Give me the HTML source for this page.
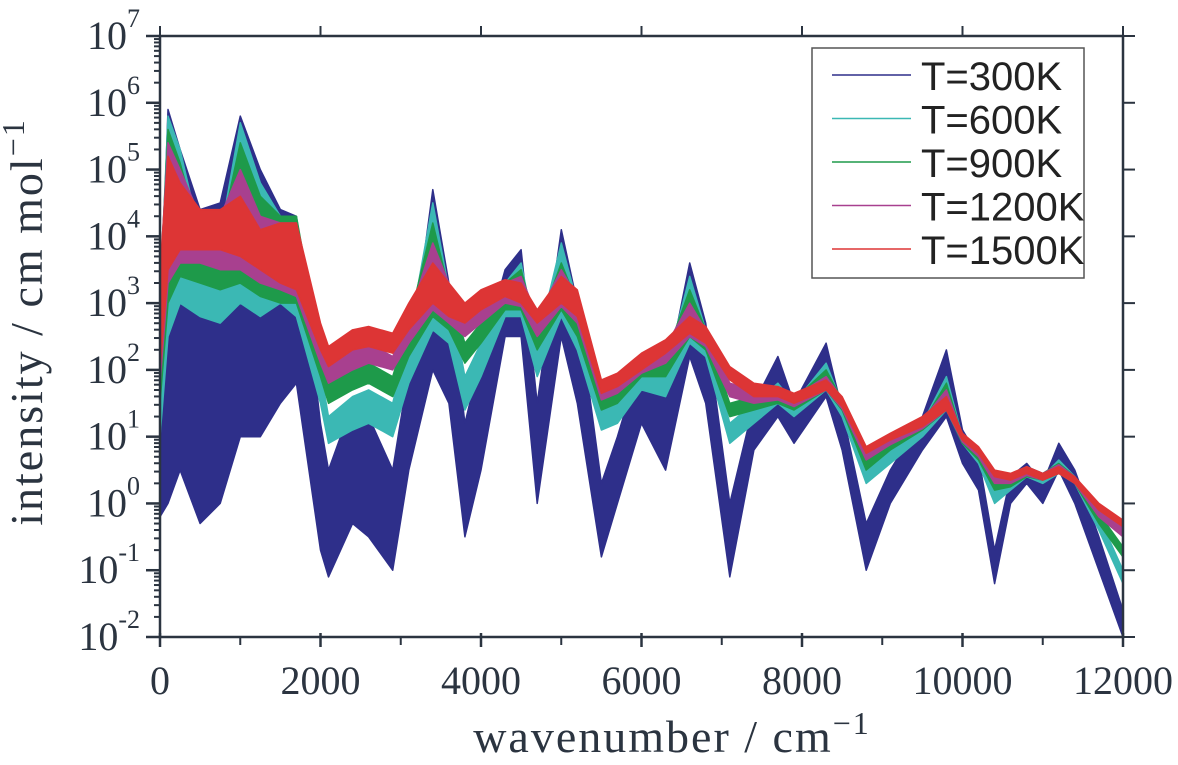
<!DOCTYPE html>
<html><head><meta charset="utf-8"><style>
html,body{margin:0;padding:0;background:#fff;}
svg{display:block;}
text{font-family:"Liberation Serif",serif;fill:#2b3440;}
</style></head><body>
<svg id="chart" width="1178" height="765" viewBox="0 0 1178 765">
<g id="series"></g>
<g id="axes"></g>
<g id="legend">
<rect x="812" y="48" width="272" height="230" fill="#fff" stroke="#555" stroke-width="1.5"/>
</g>
<text x="28" y="322" font-size="46" letter-spacing="2" transform="rotate(-90 28 322)" text-anchor="middle" dy="14">intensity / cm mol<tspan dy="-18" font-size="32">−1</tspan></text>
<text x="672" y="752" font-size="46" letter-spacing="2" text-anchor="middle">wavenumber / cm<tspan dy="-18" font-size="32">−1</tspan></text>
</svg>
<script>
const xs=[0,100,250,500,750,1000,1250,1500,1700,2000,2100,2400,2600,2900,3100,3400,3600,3800,4000,4300,4500,4700,5000,5200,5500,5700,6000,6300,6600,6800,7100,7400,7700,7900,8300,8500,8800,9100,9500,9800,10000,10200,10400,10600,10800,11000,11200,11400,11700,12000];
const names=["T=300K","T=600K","T=900K","T=1200K","T=1500K"];
const colors=["#2e2f8a","#3bb8b4","#1e9a4a","#a8408f","#dd3535"];
const lo300=[-0.2,0,0.5,-0.3,0,1,1,1.5,1.8,-0.7,-1.1,-0.3,-0.5,-1.0,0.5,2,1.5,-0.5,0.5,2.5,2.5,0,2.5,1.5,-0.8,0,1.2,0.5,2.2,1.5,-1.1,0.8,1.3,0.9,1.6,0.8,-1.0,0,0.8,1.3,0.6,0.2,-1.2,0,0.3,0,0.5,0,-1,-2];
const hi300=[2.5,5.9,5.3,4.4,4.5,5.8,5,4.4,4.3,1.2,0.5,1.5,1.3,0.5,2,4.7,3.3,1.2,2.2,3.5,3.8,1.5,4.1,3.0,0.3,1,2.2,1.8,3.6,2.7,0,1.5,2.2,1.5,2.4,1.4,-0.3,0.5,1.3,2.3,1.1,0.7,-0.7,0.4,0.6,0.3,0.9,0.5,-0.5,-1.6];
const lo600=[1,2.5,3,2.8,2.7,3,2.8,3,2.8,1.5,0.9,1.1,1.2,1,1.8,2.6,2.4,1.4,1.9,2.8,2.8,1.9,2.8,2.3,1.1,1.2,1.7,1.6,2.4,2.2,0.9,1.2,1.5,1.3,1.7,1.3,0.3,0.6,1.0,1.4,0.9,0.6,0,0.2,0.4,0.3,0.45,0.3,-0.4,-1.2];
const hi600=[3,5.8,5.3,4,4,5.7,4.8,4.3,4.3,2,1.3,1.6,1.7,1.5,2.5,4.5,3.2,1.9,2.4,3.3,3.6,2.4,3.9,3,1.4,1.5,2,2,3.4,2.6,1.2,1.5,1.8,1.5,2.1,1.5,0.5,0.8,1.2,1.9,1.0,0.75,0.2,0.35,0.55,0.4,0.65,0.4,-0.2,-1.0];
const lo900=[1.5,3,3.4,3.3,3.2,3.3,3.1,3,3,1.9,1.5,1.7,1.8,1.6,2.2,2.8,2.6,2.1,2.4,2.9,2.9,2.3,2.9,2.5,1.4,1.5,1.9,1.9,2.5,2.3,1.3,1.4,1.5,1.4,1.7,1.4,0.5,0.8,1.1,1.4,0.9,0.65,0.2,0.25,0.4,0.35,0.45,0.3,-0.3,-0.8];
const hi900=[3.2,5.6,5.1,4,4,5.4,4.6,4.3,4.3,2.3,1.8,2,2.1,1.9,2.7,4.2,3.2,2.4,2.7,3.3,3.5,2.6,3.6,3,1.6,1.7,2.1,2.2,3.2,2.6,1.5,1.6,1.7,1.55,2,1.55,0.65,0.9,1.2,1.8,1.0,0.75,0.3,0.4,0.55,0.45,0.6,0.4,-0.15,-0.65];
const lo1200=[1.8,3.3,3.6,3.6,3.5,3.5,3.3,3.2,3.1,2.1,1.8,2.0,2.1,2.0,2.4,2.9,2.7,2.5,2.7,3.0,2.95,2.5,2.95,2.7,1.55,1.65,1.95,2.1,2.5,2.35,1.6,1.5,1.55,1.45,1.7,1.42,0.65,0.88,1.12,1.4,0.92,0.7,0.3,0.3,0.42,0.35,0.45,0.3,-0.2,-0.5];
const hi1200=[3.4,5.4,5.0,4.3,4.3,5.0,4.3,4.2,4.2,2.5,2.1,2.3,2.4,2.2,2.8,3.9,3.3,2.8,3.0,3.3,3.4,2.8,3.5,3.1,1.75,1.85,2.2,2.35,3.0,2.6,1.8,1.7,1.72,1.6,1.9,1.58,0.78,0.98,1.25,1.7,1.02,0.8,0.42,0.42,0.55,0.45,0.58,0.4,-0.05,-0.35];
const lo1500=[2,3.5,3.8,3.8,3.8,3.7,3.5,3.3,3.2,2.3,2.05,2.3,2.35,2.25,2.6,3.0,2.8,2.7,2.9,3.1,3.0,2.7,3.0,2.8,1.65,1.75,2.0,2.25,2.55,2.4,1.85,1.6,1.6,1.5,1.7,1.45,0.75,0.95,1.15,1.4,0.95,0.75,0.4,0.35,0.45,0.35,0.45,0.3,-0.1,-0.35];
const hi1500=[3.5,5.2,4.8,4.4,4.4,4.6,4.1,4.2,4.2,2.7,2.35,2.6,2.65,2.55,3.0,3.6,3.3,3.0,3.2,3.35,3.3,2.9,3.4,3.2,1.85,1.95,2.25,2.45,2.8,2.65,2.05,1.8,1.75,1.65,1.85,1.6,0.85,1.05,1.3,1.6,1.05,0.85,0.5,0.45,0.55,0.45,0.55,0.4,0,-0.25];
const los=[lo300,lo600,lo900,lo1200,lo1500], his=[hi300,hi600,hi900,hi1200,hi1500];
const xTicks=[0,2000,4000,6000,8000,10000,12000];
const yTicks=[-2,-1,0,1,2,3,4,5,6,7];

const L=160,R=1123,T=36,B=637;
const xS=v=>L+v/12000*(R-L);
const yS=lg=>B-(lg+2)/9*(B-T);
const NS="http://www.w3.org/2000/svg";
function mk(tag,parent,attrs){const e=document.createElementNS(NS,tag);for(const k in attrs)e.setAttribute(k,attrs[k]);parent.appendChild(e);return e;}
const sg=document.getElementById('series');
for(let s=0;s<5;s++){
  let d="M"+xs.map((x,i)=>xS(x).toFixed(1)+","+yS(his[s][i]).toFixed(1)).join("L");
  for(let i=xs.length-1;i>=0;i--)d+="L"+xS(xs[i]).toFixed(1)+","+yS(los[s][i]).toFixed(1);
  const p=mk('path',sg,{d:d+"Z",fill:colors[s],stroke:colors[s],'stroke-width':1.5,'stroke-linejoin':'round'});
  
  
}
const ax=document.getElementById('axes');
const frame=mk('rect',ax,{x:L,y:T,width:R-L,height:B-T,fill:'none',stroke:'#2b3440','stroke-width':2.5});


xTicks.forEach(v=>{
  const x=xS(v);
  mk('line',ax,{x1:x,x2:x,y1:B-4,y2:B+10,stroke:'#2b3440','stroke-width':2.5});
  mk('line',ax,{x1:x,x2:x,y1:T,y2:T-10,stroke:'#2b3440','stroke-width':2});
  const t=mk('text',ax,{x:x,y:B+57,'font-size':40,'text-anchor':'middle'});
  t.textContent=v;
  
  
});
for(let v=1000;v<12000;v+=2000){const x=xS(v);mk('line',ax,{x1:x,x2:x,y1:B,y2:B+8,stroke:'#2b3440','stroke-width':2});}
yTicks.forEach(e=>{
  const y=yS(e);
  mk('line',ax,{x1:L-14,x2:L,y1:y,y2:y,stroke:'#2b3440','stroke-width':2.5});
  mk('line',ax,{x1:R,x2:R+12,y1:y,y2:y,stroke:'#2b3440','stroke-width':2});
  if(e<7)for(let m=2;m<10;m++){const yy=yS(e+Math.log10(m));mk('line',ax,{x1:L-6,x2:L,y1:yy,y2:yy,stroke:'#2b3440','stroke-width':2});}
  const t=mk('text',ax,{x:L-20,y:y+13,'font-size':40,'text-anchor':'end'});
  t.innerHTML='10<tspan dy="-22" font-size="26">'+e+'</tspan>';
  
  
});
const lg=document.getElementById('legend');
names.forEach((n,i)=>{
  const y=75+i*43.5;
  const l=mk('line',lg,{x1:832,x2:911,y1:y,y2:y,stroke:colors[i],'stroke-width':1.5});
  
  
  const t=mk('text',lg,{x:921,y:y+15,'font-size':40,style:'font-family:"Liberation Sans",sans-serif;fill:#222'});
  t.textContent=n;
  
  
});
</script>
</body></html>
